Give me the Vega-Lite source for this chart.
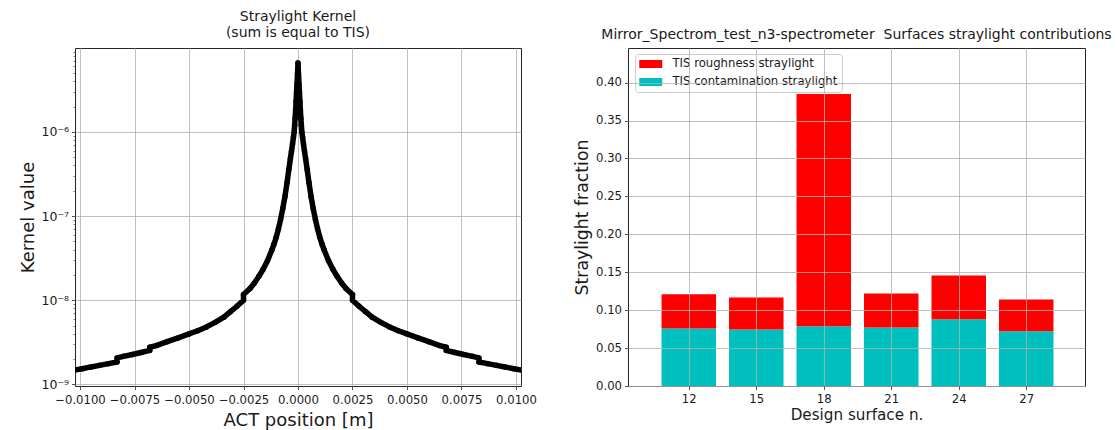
{
  "$schema": "https://vega.github.io/schema/vega-lite/v6.json",
  "padding": {"left": 19, "top": 9, "right": 5, "bottom": 5},
  "bounds": "flush",
  "spacing": 107,
  "resolve": {"legend": {"color": "independent"}, "scale": {"color": "independent"}},
  "config": {
    "font": "DejaVu Sans",
    "view": {"stroke": "#262626", "strokeWidth": 1},
    "axis": {"domain": false, "gridColor": "#b0b0b0", "gridWidth": 0.8, "tickColor": "#262626", "tickSize": 3.5, "tickWidth": 0.8, "labelColor": "#1a1a1a", "labelFontSize": 11.66, "labelFont": "DejaVu Sans", "titleFont": "DejaVu Sans", "titleFontWeight": "normal", "titleColor": "#1a1a1a", "labelPadding": 4.5},
    "title": {"font": "DejaVu Sans", "fontSize": 14, "fontWeight": "normal", "color": "#1a1a1a", "frame": "group", "anchor": "middle", "baseline": "bottom", "offset": 6}
  },
  "hconcat": [
    {
      "width": 446,
      "height": 338,
      "title": {"text": ["Straylight Kernel", "(sum is equal to TIS)"], "lineHeight": 16},
      "data": {"values": [
        {"i": 0, "x": -0.0103, "v": 1.47e-9},
        {"i": 1, "x": -0.0099, "v": 1.53e-9},
        {"i": 2, "x": -0.0095, "v": 1.61e-9},
        {"i": 3, "x": -0.0091, "v": 1.68e-9},
        {"i": 4, "x": -0.0087, "v": 1.76e-9},
        {"i": 5, "x": -0.0083, "v": 1.84e-9},
        {"i": 6, "x": -0.0083, "v": 2.06e-9},
        {"i": 7, "x": -0.008, "v": 2.15e-9},
        {"i": 8, "x": -0.0076, "v": 2.26e-9},
        {"i": 9, "x": -0.0072, "v": 2.39e-9},
        {"i": 10, "x": -0.0068, "v": 2.53e-9},
        {"i": 11, "x": -0.0068, "v": 2.76e-9},
        {"i": 12, "x": -0.0065, "v": 2.89e-9},
        {"i": 13, "x": -0.006, "v": 3.21e-9},
        {"i": 14, "x": -0.0055, "v": 3.56e-9},
        {"i": 15, "x": -0.005, "v": 3.97e-9},
        {"i": 16, "x": -0.0046, "v": 4.33e-9},
        {"i": 17, "x": -0.0042, "v": 4.81e-9},
        {"i": 18, "x": -0.0038, "v": 5.45e-9},
        {"i": 19, "x": -0.0034, "v": 6.28e-9},
        {"i": 20, "x": -0.0031, "v": 7.3e-9},
        {"i": 21, "x": -0.0028, "v": 8.47e-9},
        {"i": 22, "x": -0.0025, "v": 1.0e-8},
        {"i": 23, "x": -0.0025, "v": 1.17e-8},
        {"i": 24, "x": -0.0022, "v": 1.38e-8},
        {"i": 25, "x": -0.002, "v": 1.6e-8},
        {"i": 26, "x": -0.0018, "v": 1.91e-8},
        {"i": 27, "x": -0.0016, "v": 2.33e-8},
        {"i": 28, "x": -0.0014, "v": 2.95e-8},
        {"i": 29, "x": -0.0012, "v": 3.95e-8},
        {"i": 30, "x": -0.0011, "v": 4.65e-8},
        {"i": 31, "x": -0.001, "v": 5.6e-8},
        {"i": 32, "x": -0.0009, "v": 7.0e-8},
        {"i": 33, "x": -0.0008, "v": 9.1e-8},
        {"i": 34, "x": -0.0007, "v": 1.22e-7},
        {"i": 35, "x": -0.0006, "v": 1.7e-7},
        {"i": 36, "x": -0.0005, "v": 2.52e-7},
        {"i": 37, "x": -0.00042, "v": 3.58e-7},
        {"i": 38, "x": -0.00035, "v": 4.8e-7},
        {"i": 39, "x": -0.0003, "v": 5.85e-7},
        {"i": 40, "x": -0.00025, "v": 7.25e-7},
        {"i": 41, "x": -0.00021, "v": 8.6e-7},
        {"i": 42, "x": -0.000176, "v": 1.0e-6},
        {"i": 43, "x": -0.000154, "v": 1.2e-6},
        {"i": 44, "x": -0.000132, "v": 1.45e-6},
        {"i": 45, "x": -0.00011, "v": 1.8e-6},
        {"i": 46, "x": -0.000088, "v": 2.3e-6},
        {"i": 47, "x": -0.000066, "v": 3.0e-6},
        {"i": 48, "x": -0.000044, "v": 3.75e-6},
        {"i": 49, "x": -0.000022, "v": 4.9e-6},
        {"i": 50, "x": 0, "v": 6.6e-6},
        {"i": 51, "x": 0.000022, "v": 4.9e-6},
        {"i": 52, "x": 0.000044, "v": 3.75e-6},
        {"i": 53, "x": 0.000066, "v": 3.0e-6},
        {"i": 54, "x": 0.000088, "v": 2.3e-6},
        {"i": 55, "x": 0.00011, "v": 1.8e-6},
        {"i": 56, "x": 0.000132, "v": 1.45e-6},
        {"i": 57, "x": 0.000154, "v": 1.2e-6},
        {"i": 58, "x": 0.000176, "v": 1.0e-6},
        {"i": 59, "x": 0.00021, "v": 8.6e-7},
        {"i": 60, "x": 0.00025, "v": 7.25e-7},
        {"i": 61, "x": 0.0003, "v": 5.85e-7},
        {"i": 62, "x": 0.00035, "v": 4.8e-7},
        {"i": 63, "x": 0.00042, "v": 3.58e-7},
        {"i": 64, "x": 0.0005, "v": 2.52e-7},
        {"i": 65, "x": 0.0006, "v": 1.7e-7},
        {"i": 66, "x": 0.0007, "v": 1.22e-7},
        {"i": 67, "x": 0.0008, "v": 9.1e-8},
        {"i": 68, "x": 0.0009, "v": 7.0e-8},
        {"i": 69, "x": 0.001, "v": 5.6e-8},
        {"i": 70, "x": 0.0011, "v": 4.65e-8},
        {"i": 71, "x": 0.0012, "v": 3.95e-8},
        {"i": 72, "x": 0.0014, "v": 2.95e-8},
        {"i": 73, "x": 0.0016, "v": 2.33e-8},
        {"i": 74, "x": 0.0018, "v": 1.91e-8},
        {"i": 75, "x": 0.002, "v": 1.6e-8},
        {"i": 76, "x": 0.0022, "v": 1.38e-8},
        {"i": 77, "x": 0.0025, "v": 1.17e-8},
        {"i": 78, "x": 0.0025, "v": 1.0e-8},
        {"i": 79, "x": 0.0028, "v": 8.47e-9},
        {"i": 80, "x": 0.0031, "v": 7.3e-9},
        {"i": 81, "x": 0.0034, "v": 6.28e-9},
        {"i": 82, "x": 0.0038, "v": 5.45e-9},
        {"i": 83, "x": 0.0042, "v": 4.81e-9},
        {"i": 84, "x": 0.0046, "v": 4.33e-9},
        {"i": 85, "x": 0.005, "v": 3.97e-9},
        {"i": 86, "x": 0.0055, "v": 3.56e-9},
        {"i": 87, "x": 0.006, "v": 3.21e-9},
        {"i": 88, "x": 0.0065, "v": 2.89e-9},
        {"i": 89, "x": 0.0068, "v": 2.76e-9},
        {"i": 90, "x": 0.0068, "v": 2.53e-9},
        {"i": 91, "x": 0.0072, "v": 2.39e-9},
        {"i": 92, "x": 0.0076, "v": 2.26e-9},
        {"i": 93, "x": 0.008, "v": 2.15e-9},
        {"i": 94, "x": 0.0083, "v": 2.06e-9},
        {"i": 95, "x": 0.0083, "v": 1.84e-9},
        {"i": 96, "x": 0.0087, "v": 1.76e-9},
        {"i": 97, "x": 0.0091, "v": 1.68e-9},
        {"i": 98, "x": 0.0095, "v": 1.61e-9},
        {"i": 99, "x": 0.0099, "v": 1.53e-9},
        {"i": 100, "x": 0.0103, "v": 1.47e-9}
      ]},
      "encoding": {
        "x": {"field": "x", "type": "quantitative",
          "scale": {"domain": [-0.01023, 0.01023], "nice": false, "zero": false},
          "axis": {"values": [-0.01, -0.0075, -0.005, -0.0025, 0, 0.0025, 0.005, 0.0075, 0.01], "format": ".4f", "labelOverlap": false, "labelFlush": false, "grid": true, "title": "ACT position [m]", "titleFontSize": 18, "titlePadding": 6}},
        "y": {"field": "v", "type": "quantitative",
          "scale": {"type": "log", "domain": [9.55e-10, 9.95e-6], "nice": false},
          "axis": {
            "values": [1e-9, 2e-9, 3e-9, 4e-9, 5e-9, 6e-9, 7e-9, 8e-9, 9e-9, 1e-8, 2e-8, 3e-8, 4e-8, 5e-8, 6e-8, 7e-8, 8e-8, 9e-8, 1e-7, 2e-7, 3e-7, 4e-7, 5e-7, 6e-7, 7e-7, 8e-7, 9e-7, 1e-6, 2e-6, 3e-6, 4e-6, 5e-6, 6e-6, 7e-6, 8e-6, 9e-6],
            "labelExpr": "abs(log(datum.value)/LN10 - round(log(datum.value)/LN10)) < 0.001 ? '10⁻' + ['⁰','¹','²','³','⁴','⁵','⁶','⁷','⁸','⁹'][-round(log(datum.value)/LN10)] : ''",
            "labelOverlap": false,
            "labelFlush": false,
            "labelFontSize": 12.5,
            "grid": true,
            "gridOpacity": {"condition": {"test": "abs(log(datum.value)/LN10 - round(log(datum.value)/LN10)) < 0.001", "value": 1}, "value": 0},
            "tickSize": {"condition": {"test": "abs(log(datum.value)/LN10 - round(log(datum.value)/LN10)) < 0.001", "value": 3.5}, "value": 2},
            "tickWidth": {"condition": {"test": "abs(log(datum.value)/LN10 - round(log(datum.value)/LN10)) < 0.001", "value": 0.8}, "value": 0.6},
            "labelPadding": 3,
            "title": "Kernel value", "titleFontSize": 18, "titlePadding": 3}},
        "order": {"field": "i", "type": "quantitative"}
      },
      "layer": [
        {"mark": {"type": "line", "color": "#000000", "strokeWidth": 5.5, "strokeCap": "round", "strokeJoin": "round", "clip": true}},
        {"mark": {"type": "point", "filled": true, "color": "#000000", "size": 30, "opacity": 1, "clip": true}}
      ]
    },
    {
      "width": 457,
      "height": 338,
      "title": {"text": "Mirror_Spectrom_test_n3-spectrometer\u00a0 Surfaces straylight contributions"},
      "data": {"values": [
        {"surface": 12, "type": "TIS contamination straylight", "value": 0.0758},
        {"surface": 12, "type": "TIS roughness straylight", "value": 0.0450},
        {"surface": 15, "type": "TIS contamination straylight", "value": 0.0745},
        {"surface": 15, "type": "TIS roughness straylight", "value": 0.0423},
        {"surface": 18, "type": "TIS contamination straylight", "value": 0.0789},
        {"surface": 18, "type": "TIS roughness straylight", "value": 0.3061},
        {"surface": 21, "type": "TIS contamination straylight", "value": 0.0771},
        {"surface": 21, "type": "TIS roughness straylight", "value": 0.0449},
        {"surface": 24, "type": "TIS contamination straylight", "value": 0.0881},
        {"surface": 24, "type": "TIS roughness straylight", "value": 0.0576},
        {"surface": 27, "type": "TIS contamination straylight", "value": 0.0722},
        {"surface": 27, "type": "TIS roughness straylight", "value": 0.0418}
      ]},
      "mark": {"type": "bar", "width": 54.5},
      "encoding": {
        "x": {"field": "surface", "type": "quantitative",
          "scale": {"domain": [9.52, 29.39], "nice": false, "zero": false},
          "axis": {"values": [12, 15, 18, 21, 24, 27], "grid": true, "zindex": 1, "labelPadding": 3.5, "title": "Design surface n.", "titleFontSize": 15.2, "titlePadding": 3}},
        "y": {"field": "value", "type": "quantitative", "stack": "zero",
          "scale": {"domain": [0, 0.4456], "nice": false},
          "axis": {"values": [0, 0.05, 0.1, 0.15, 0.2, 0.25, 0.3, 0.35, 0.4], "format": ".2f", "grid": true, "zindex": 1, "labelPadding": 3, "title": "Straylight fraction", "titleFontSize": 17.3, "titlePadding": 4}},
        "color": {"field": "type", "type": "nominal",
          "scale": {"domain": ["TIS roughness straylight", "TIS contamination straylight"], "range": ["#ff0000", "#00bfbf"]},
          "legend": {"title": null, "orient": "none", "legendX": 7, "legendY": 6, "symbolType": "M-2,-0.7L2,-0.7L2,0.7L-2,0.7Z", "symbolSize": 132, "symbolOffset": 5.75, "symbolStrokeWidth": 0, "symbolOpacity": 1, "labelFontSize": 11.66, "labelFont": "DejaVu Sans", "labelColor": "#1a1a1a", "labelLimit": 0, "fillColor": "rgba(255,255,255,0.8)", "strokeColor": "#cccccc", "cornerRadius": 3, "padding": 4, "rowPadding": 6, "labelOffset": 15.75}},
        "order": {"field": "type", "sort": "ascending"}
      }
    }
  ]
}
